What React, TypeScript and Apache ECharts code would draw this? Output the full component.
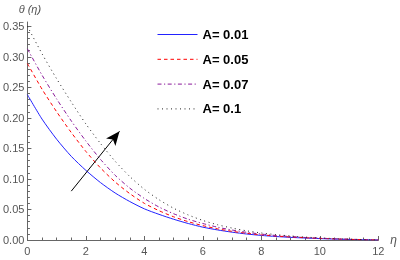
import React, { useEffect, useRef } from "react";
import * as echarts from "echarts";

const eta = [0, 0.5, 1, 1.5, 2, 2.5, 3, 3.5, 4, 4.5, 5, 5.5, 6, 6.5, 7, 7.5, 8, 8.5, 9, 9.5, 10, 10.5, 11, 11.5, 12];
const thetaA001 = [0.238, 0.198, 0.165, 0.137, 0.114, 0.094, 0.077, 0.063, 0.051, 0.042, 0.034, 0.027, 0.021, 0.0165, 0.0128, 0.0098, 0.0075, 0.0057, 0.0043, 0.0032, 0.0023, 0.0015, 0.0009, 0.0004, 0];
const thetaA005 = [0.289, 0.247, 0.21, 0.176, 0.145, 0.118, 0.095, 0.076, 0.06, 0.048, 0.038, 0.03, 0.0235, 0.0183, 0.0142, 0.011, 0.0085, 0.0065, 0.005, 0.0037, 0.0027, 0.0018, 0.0011, 0.0005, 0];
const thetaA007 = [0.313, 0.27, 0.231, 0.195, 0.162, 0.132, 0.106, 0.085, 0.068, 0.054, 0.043, 0.034, 0.027, 0.021, 0.0163, 0.0126, 0.0097, 0.0074, 0.0056, 0.0041, 0.003, 0.002, 0.0012, 0.0006, 0];
const thetaA01 = [0.35, 0.305, 0.264, 0.226, 0.19, 0.158, 0.129, 0.104, 0.083, 0.066, 0.052, 0.041, 0.032, 0.025, 0.0195, 0.015, 0.0115, 0.0088, 0.0066, 0.0048, 0.0034, 0.0023, 0.0014, 0.0007, 0];
const seriesNames = ["A= 0.01", "A= 0.05", "A= 0.07", "A= 0.1"];
const yMajorTicks = [0, 0.05, 0.1, 0.15, 0.2, 0.25, 0.3, 0.35];
const yMinorTicks = [0.01, 0.02, 0.03, 0.04, 0.06, 0.07, 0.08, 0.09, 0.11, 0.12, 0.13, 0.14, 0.16, 0.17, 0.18, 0.19, 0.21, 0.22, 0.23, 0.24, 0.26, 0.27, 0.28, 0.29, 0.31, 0.32, 0.33, 0.34];
const arrowStart = [1.5, 0.08];
const arrowEnd = [3.15, 0.178];

const AXIS_COLOR = "#666666";
const LABEL_COLOR = "#555555";

export default function App() {
  const ref = useRef<HTMLDivElement>(null);
  useEffect(() => {
    if (!ref.current) return;
    const chart = echarts.init(ref.current, undefined, { renderer: "svg" });
    const toPairs = (ys: number[]) => eta.map((x, i) => [x, ys[i]]);
    const styles = [
      { color: "#2222ff", type: "solid" as any },
      { color: "#ff0000", type: [3.5, 3] as any },
      { color: "#8a1a9a", type: [4, 2.5, 1.2, 2.5] as any },
      { color: "#222222", type: [1, 3.5] as any },
    ];
    const datas = [thetaA001, thetaA005, thetaA007, thetaA01];
    const series: any[] = datas.map((d, i) => ({
      name: seriesNames[i],
      type: "line",
      data: toPairs(d),
      showSymbol: false,
      symbol: "none",
      smooth: 0.25,
      xAxisIndex: 0,
      yAxisIndex: 0,
      lineStyle: { color: styles[i].color, type: styles[i].type, width: 1 },
      itemStyle: { color: styles[i].color },
      z: 3,
    }));
    series[0].markLine = {
      silent: true,
      symbol: ["none", "arrow"],
      symbolSize: [9, 14],
      label: { show: false },
      lineStyle: { color: "#000", type: "solid", width: 1 },
      itemStyle: { color: "#000" },
      data: [[{ coord: arrowStart }, { coord: arrowEnd }]],
    };
    chart.setOption({
      animation: false,
      grid: { left: 27, right: 18, top: 22, bottom: 20, containLabel: false },
      legend: {
        orient: "vertical",
        left: 152,
        top: 23,
        itemWidth: 40,
        itemHeight: 12,
        itemGap: 11.8,
        data: seriesNames.map((n, i) => ({
          name: n,
          itemStyle: { opacity: 0 },
          lineStyle: { color: styles[i].color, type: styles[i].type, width: 1 },
        })),
        itemStyle: { opacity: 0 },
        textStyle: { color: "#000", fontWeight: "bold", fontSize: 13, fontFamily: "Liberation Sans" },
      },
      xAxis: {
        type: "value",
        min: 0,
        max: 12,
        interval: 2,
        name: "η",
        nameLocation: "end",
        nameGap: 6,
        nameTextStyle: { color: LABEL_COLOR, fontStyle: "italic", fontSize: 12, fontFamily: "Liberation Sans" },
        axisLine: { show: true, lineStyle: { color: AXIS_COLOR, width: 1 } },
        axisTick: { show: true, inside: true, length: 4, lineStyle: { color: AXIS_COLOR } },
        minorTick: { show: true, splitNumber: 4, length: 2.5, lineStyle: { color: AXIS_COLOR } },
        axisLabel: { color: LABEL_COLOR, fontSize: 11, margin: 5, fontFamily: "Liberation Sans" },
        splitLine: { show: false },
      },
      yAxis: [
        {
          type: "value",
          min: 0,
          max: 0.357,
          name: "θ (η)",
          nameLocation: "end",
          nameGap: 8,
          nameTextStyle: { color: LABEL_COLOR, fontStyle: "italic", fontSize: 11, fontFamily: "Liberation Sans", padding: [0, 0, 0, 5] },
          axisLine: { show: true, lineStyle: { color: AXIS_COLOR, width: 1 } },
          axisTick: { show: true, inside: true, length: 4, customValues: yMajorTicks, lineStyle: { color: AXIS_COLOR } },
          axisLabel: {
            color: LABEL_COLOR,
            fontSize: 11,
            margin: 3,
            fontFamily: "Liberation Sans",
            customValues: yMajorTicks,
            formatter: (v: number) => v.toFixed(2),
          },
          splitLine: { show: false },
        },
        {
          type: "value",
          min: 0,
          max: 0.357,
          position: "left",
          axisLine: { show: false },
          axisTick: { show: true, inside: true, length: 2.5, customValues: yMinorTicks, lineStyle: { color: AXIS_COLOR } },
          axisLabel: { show: false },
          splitLine: { show: false },
        },
      ],
      series,
    });
    return () => chart.dispose();
  }, []);
  return <div ref={ref} style={{ position: "fixed", left: 0, top: 0, width: 400, height: 260 }} />;
}
